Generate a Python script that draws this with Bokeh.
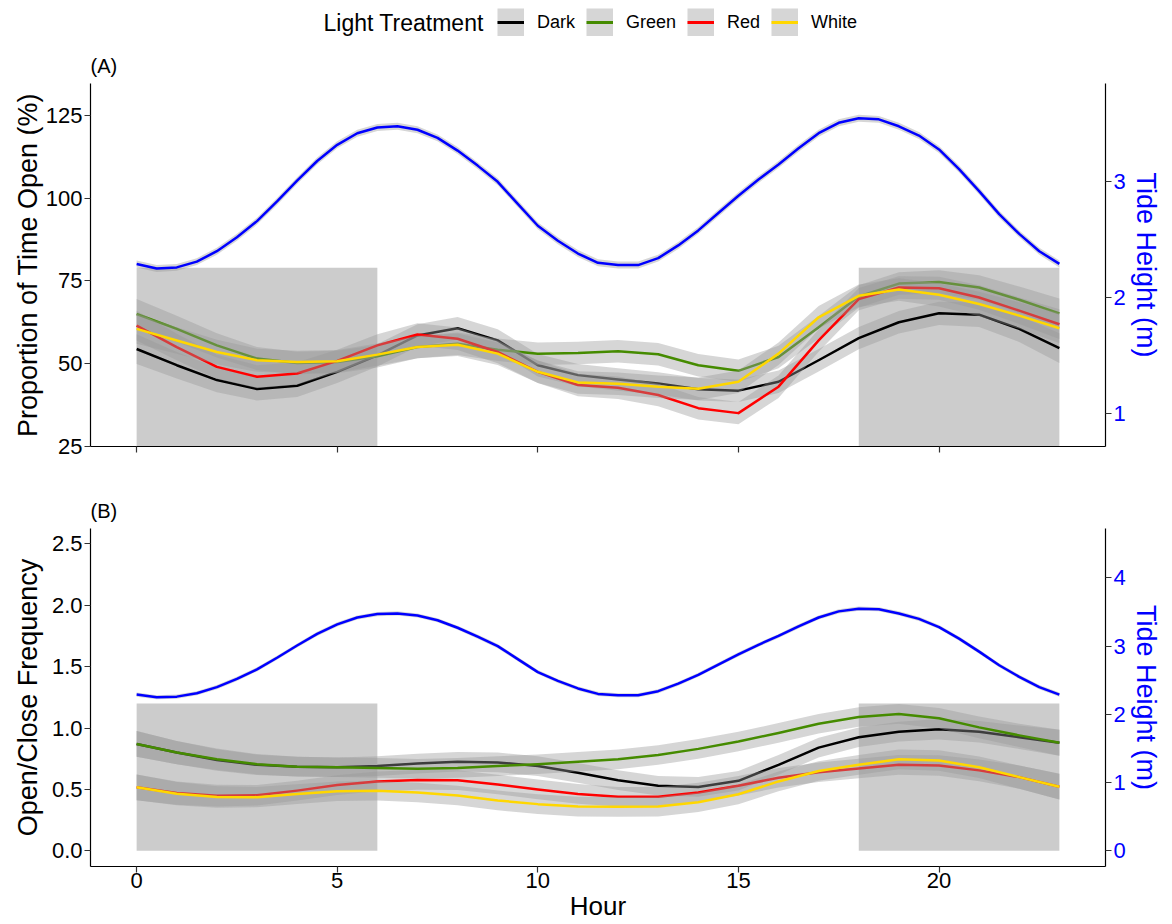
from bokeh.plotting import figure
from bokeh.models import (Range1d, LinearAxis, FixedTicker, Legend, LegendItem,
                          Label, NumeralTickFormatter, CustomLabelingPolicy)
from bokeh.layouts import column
from bokeh.embed import file_html
from bokeh.resources import INLINE

# ---------------- data ----------------
hours = list(range(24))
treatments = ["Dark", "Green", "Red", "White"]
tide_hours = [i * 0.5 for i in range(47)]
tide_m = [2.29, 2.25, 2.26, 2.31, 2.40, 2.52, 2.66, 2.83, 3.01, 3.18, 3.32, 3.42,
          3.47, 3.48, 3.45, 3.38, 3.27, 3.14, 3.00, 2.81, 2.62, 2.49, 2.38, 2.30,
          2.28, 2.28, 2.34, 2.45, 2.58, 2.73, 2.88, 3.02, 3.15, 3.29, 3.42, 3.51,
          3.55, 3.54, 3.48, 3.40, 3.28, 3.11, 2.92, 2.72, 2.55, 2.40, 2.29]
tide_se = [0.03] * 47

open_dark = [54.4, 49.5, 45.0, 42.3, 43.3, 47.5, 52.5, 58.5, 60.7, 57.0, 49.5, 46.5,
             45.2, 44.0, 42.2, 41.8, 44.5, 51.0, 57.7, 62.5, 65.2, 64.8, 60.5, 54.7]
open_green = [65.0, 60.5, 55.5, 51.5, 50.2, 50.5, 52.2, 55.0, 56.0, 54.2, 53.0, 53.2,
              53.7, 52.8, 49.5, 47.8, 52.0, 61.0, 70.3, 74.2, 74.7, 73.0, 69.3, 65.2]
open_red = [61.5, 55.0, 49.0, 46.0, 47.0, 50.8, 55.5, 58.8, 57.5, 53.5, 47.5, 43.5,
            42.7, 40.5, 36.5, 35.0, 43.0, 57.0, 69.5, 73.0, 72.8, 70.0, 66.0, 61.9]
open_white = [60.5, 57.0, 53.5, 51.0, 50.5, 50.7, 52.7, 55.0, 55.7, 53.0, 47.5, 44.3,
              43.9, 43.0, 42.4, 44.5, 53.0, 64.0, 70.5, 72.4, 70.8, 68.0, 64.5, 60.7]
se_open = [4.5, 4.0, 3.7, 3.5, 3.4, 3.4, 3.4, 3.4, 3.4, 3.4, 3.4, 3.4,
           3.4, 3.4, 3.4, 3.4, 3.4, 3.4, 3.4, 3.4, 3.5, 3.7, 4.0, 4.5]

freq_dark = [0.87, 0.80, 0.74, 0.70, 0.685, 0.68, 0.69, 0.71, 0.725, 0.72, 0.69, 0.635,
             0.575, 0.53, 0.52, 0.57, 0.70, 0.84, 0.925, 0.97, 0.99, 0.97, 0.925, 0.88]
freq_green = [0.87, 0.80, 0.745, 0.705, 0.685, 0.68, 0.675, 0.668, 0.675, 0.69, 0.705, 0.725,
              0.745, 0.78, 0.83, 0.89, 0.96, 1.035, 1.09, 1.115, 1.08, 1.005, 0.94, 0.88]
freq_red = [0.517, 0.47, 0.449, 0.452, 0.49, 0.535, 0.565, 0.577, 0.575, 0.54, 0.50, 0.463,
            0.44, 0.44, 0.475, 0.53, 0.595, 0.64, 0.67, 0.70, 0.695, 0.655, 0.60, 0.522]
freq_white = [0.517, 0.465, 0.438, 0.437, 0.462, 0.485, 0.489, 0.475, 0.45, 0.41, 0.38, 0.36,
              0.358, 0.36, 0.395, 0.46, 0.565, 0.65, 0.70, 0.745, 0.735, 0.68, 0.60, 0.522]
se_freq = [0.105, 0.095, 0.088, 0.083, 0.08, 0.08, 0.08, 0.08, 0.08, 0.08, 0.08, 0.08,
           0.08, 0.08, 0.08, 0.08, 0.08, 0.08, 0.08, 0.08, 0.083, 0.088, 0.095, 0.105]

night_start = [0, 18]
night_end = [6, 23]
shade_open = (25, 79)      # bottom, top of night shading in panel A
shade_freq = (0, 1.2)      # bottom, top of night shading in panel B
tide_to_open = 35.0        # secondary axis: open% = tide * 35
tide_to_freq = 1 / 1.8     # secondary axis: freq = tide / 1.8

x_ticks = [0, 5, 10, 15, 20]
open_ticks = [25, 50, 75, 100, 125]
open_tide_ticks = [1, 2, 3]
freq_ticks = [0, 0.5, 1.0, 1.5, 2.0, 2.5]
freq_tide_ticks = [0, 1, 2, 3, 4]

# ---------------- style ----------------
FONT = "Liberation Sans"
COLORS = {"Dark": "#000000", "Green": "#458B00", "Red": "#FF0000", "White": "#FFD700"}
TIDE_COLOR = "#0000FF"
SHADE = "#CCCCCC"
RIBBON = "#999999"
W = 1172
BL, BR = 90, 67            # frame borders (left / right)


def style_axis(ax, color="black", tick_size="22px", title_size="27px"):
    ax.axis_line_color = "black"
    ax.axis_line_width = 1.2
    ax.major_tick_line_color = "#333333"
    ax.major_tick_line_width = 1.2
    ax.major_tick_out = 6
    ax.major_tick_in = 0
    ax.minor_tick_line_color = None
    ax.major_label_text_font = FONT
    ax.major_label_text_font_size = tick_size
    ax.major_label_text_color = color
    ax.major_label_standoff = 2
    ax.axis_label_text_font = FONT
    ax.axis_label_text_font_size = title_size
    ax.axis_label_text_font_style = "normal"
    ax.axis_label_text_color = color


def panel(tag, series, se, yr, tide_range, shade, height, top, bottom,
          ylabel, yticks, tide_ticks, show_x, left_standoff, y_fmt=None):
    p = figure(width=W, height=height, x_range=Range1d(-1.15, 24.15), y_range=Range1d(*yr),
               output_backend="svg", toolbar_location=None, title=tag,
               min_border_left=BL, min_border_right=BR, min_border_top=top,
               min_border_bottom=bottom)
    p.outline_line_color = None
    p.xgrid.visible = False
    p.ygrid.visible = False
    p.title.text_font = FONT
    p.title.text_font_size = "20px"
    p.title.text_font_style = "normal"
    p.title.text_color = "black"
    p.title.align = "left"
    p.title.standoff = 13
    p.extra_y_ranges = {"tide": Range1d(tide_range[0], tide_range[1])}

    # night shading
    p.quad(left=night_start, right=night_end, bottom=[shade[0]] * len(night_start),
           top=[shade[1]] * len(night_start), fill_color=SHADE, line_color=None)

    # tide
    p.varea(x=tide_hours, y1=[t - s for t, s in zip(tide_m, tide_se)],
            y2=[t + s for t, s in zip(tide_m, tide_se)],
            fill_color=RIBBON, fill_alpha=0.4, y_range_name="tide")
    p.line(tide_hours, tide_m, line_color=TIDE_COLOR, line_width=2.5, line_join="round",
           y_range_name="tide")

    # treatments
    for name in treatments:
        vals = series[name]
        p.varea(x=hours, y1=[v - s for v, s in zip(vals, se)],
                y2=[v + s for v, s in zip(vals, se)], fill_color=RIBBON, fill_alpha=0.4)
        p.line(hours, vals, line_color=COLORS[name], line_width=2.5, line_join="round")

    # axes
    xa = p.below[0]
    xa.ticker = FixedTicker(ticks=x_ticks)
    style_axis(xa)
    if show_x:
        xa.axis_label = "Hour"
        xa.axis_label_text_font_size = "26px"
        xa.major_label_standoff = 0
        xa.axis_label_standoff = 0
    else:
        # ticks only, no tick labels (as in the reference's upper panel)
        xa.major_label_text_font_size = "0px"
        xa.major_label_policy = CustomLabelingPolicy(code="return new Set()")

    ya = p.left[0]
    ya.ticker = FixedTicker(ticks=yticks)
    ya.axis_label = ylabel
    style_axis(ya)
    ya.axis_label_standoff = left_standoff
    if y_fmt:
        ya.formatter = NumeralTickFormatter(format=y_fmt)

    ra = LinearAxis(y_range_name="tide", axis_label="Tide Height (m)",
                    ticker=FixedTicker(ticks=tide_ticks))
    style_axis(ra, color=TIDE_COLOR)
    ra.axis_label_standoff = 2
    p.add_layout(ra, "right")
    return p


# ---------------- legend row ----------------
LH = 46
pl = figure(width=W, height=LH, x_range=Range1d(0, W - BL - BR), y_range=Range1d(0, LH),
            x_axis_type=None, y_axis_type=None, toolbar_location=None,
            output_backend="svg", min_border_left=BL, min_border_right=BR,
            min_border_top=0, min_border_bottom=0)
pl.outline_line_color = None
nan = float("nan")
bg = pl.line(x=[nan], y=[nan], line_color=RIBBON, line_alpha=0.4, line_width=28,
             line_cap="butt")
items = []
for name in treatments:
    r = pl.line(x=[nan], y=[nan], line_color=COLORS[name], line_width=3)
    items.append(LegendItem(label=name, renderers=[bg, r]))
leg = Legend(items=items, orientation="horizontal", location=(407, 10),
             glyph_width=27, glyph_height=28, label_standoff=13, spacing=11,
             padding=0, margin=0, border_line_color=None, background_fill_alpha=0,
             label_text_font=FONT, label_text_font_size="18px", label_height=28,
             label_text_color="black")
pl.add_layout(leg)
pl.add_layout(Label(x=233, y=24, text="Light Treatment", text_font=FONT,
                    text_font_size="23px", text_baseline="middle", text_align="left",
                    text_color="black"))

open_series = {"Dark": open_dark, "Green": open_green, "Red": open_red, "White": open_white}
freq_series = {"Dark": freq_dark, "Green": freq_green, "Red": freq_red, "White": freq_white}

yr_a = (24.9, 134.75)
pa = panel("(A)", open_series, se_open, yr_a,
           (yr_a[0] / tide_to_open, yr_a[1] / tide_to_open), shade_open,
           430, 36, 30, "Proportion of Time Open (%)", open_ticks, open_tide_ticks,
           False, 0)
yr_b = (-0.128, 2.625)
pb = panel("(B)", freq_series, se_freq, yr_b,
           (yr_b[0] / tide_to_freq, yr_b[1] / tide_to_freq), shade_freq,
           448, 52, 58, "Open/Close Frequency", freq_ticks, freq_tide_ticks,
           True, 6, y_fmt="0.0")

layout = column(pl, pa, pb, spacing=0)
open("out.html", "w").write(file_html(layout, INLINE))
